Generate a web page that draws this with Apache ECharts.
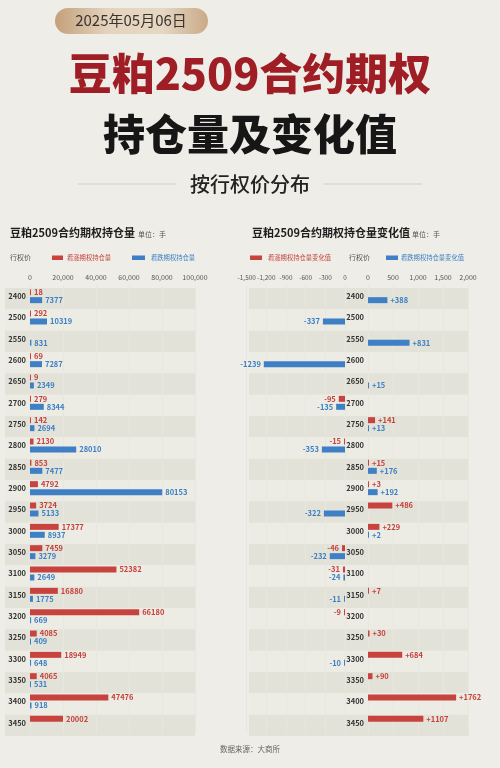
<!DOCTYPE html>
<html>
<head>
<meta charset="utf-8">
<script src="https://cdn.jsdelivr.net/npm/echarts@6/dist/echarts.min.js"></script>
<style>
html,body{margin:0;padding:0;background:#eeede7;}
#chart{width:500px;height:768px;}
</style>
</head>
<body>
<div id="chart"></div>
<script>
const strikes = ['2400','2500','2550','2600','2650','2700','2750','2800','2850','2900','2950','3000','3050','3100','3150','3200','3250','3300','3350','3400','3450'];
const callOI = [18,292,null,69,9,279,142,2130,853,4792,3724,17377,7459,52382,16880,66180,4085,18949,4065,47476,20002];
const putOI = [7377,10319,831,7287,2349,8344,2694,28010,7477,80153,5133,8937,3279,2649,1775,669,409,648,531,918,null];
const callChg = [null,null,null,null,null,-95,141,-15,15,3,486,229,-46,-31,7,-9,30,684,90,1762,1107];
const putChg = [388,-337,831,-1239,15,-135,13,-353,176,192,-322,2,-232,-24,-11,null,null,-10,null,null,null];
const oiTicks = {min:0, max:100000, interval:20000};
const negTicks = {min:-1500, max:0, interval:300};
const posTicks = {min:0, max:2000, interval:500};

const RED = '#c8433d', BLUE = '#3e7fc6';
const RED_T = '#c5423c', BLUE_T = '#3b7fc4';
const FONT = '"Noto Sans CJK SC","Noto Sans",sans-serif';

const fmtNum = v => Number(v).toLocaleString('en-US');
const negOnly = arr => arr.map(v => (v !== null && v < 0) ? v : null);
const posOnly = arr => arr.map(v => (v !== null && v >= 0) ? v : null);

const chart = echarts.init(document.getElementById('chart'), null, {renderer:'canvas'});

const TOP = 285.5, H = 448;
const bgAxisY = (gi) => ({type:'category', gridIndex:gi, data:strikes, inverse:true, show:true,
  axisLine:{show:false}, axisTick:{show:false}, axisLabel:{show:false},
  splitArea:{show:true, areaStyle:{color:['#e3e2d9','#ecebe4']}}, splitLine:{show:false}, z:0});
const bgAxisX = (gi) => ({type:'value', gridIndex:gi, show:false});

const valAxis = (gi, t, fs) => ({type:'value', gridIndex:gi, position:'top', min:t.min, max:t.max, interval:t.interval,
  axisLine:{show:false}, axisTick:{show:false},
  axisLabel:{fontSize:fs||7, color:'#555', margin:5, fontFamily:FONT, formatter:fmtNum,
    showMinLabel:true, showMaxLabel:true, hideOverlap:false},
  splitLine:{show:true, lineStyle:{color:'#e7e6df', width:1}}, z:1});
const catAxis = (gi, showLabel) => ({type:'category', gridIndex:gi, data:strikes, inverse:true,
  axisLine:{show:false}, axisTick:{show:false},
  axisLabel:{show:showLabel, fontSize:7.5, fontWeight:'bold', color:'#333', margin:4, fontFamily:FONT},
  splitLine:{show:false}, z:1});

const barSeries = (name, xi, yi, data, color, tcolor, pos, fmt) => ({
  type:'bar', name, xAxisIndex:xi, yAxisIndex:yi, data, barWidth:6, barGap:'33%', barMinHeight:1,
  itemStyle:{color}, 
  label:{show:true, position:pos, distance:3, fontSize:7.5, fontWeight:'bold', color:tcolor, fontFamily:FONT,
    formatter: p => (p.value === null || p.value === undefined) ? '' : fmt(p.value)},
  silent:true, animation:false
});

const txt = (text, x, y, size, color, weight, align) => ({type:'text', x, y, silent:true,
  style:{text, fill:color, font: (weight||'normal') + ' ' + size + 'px ' + FONT, textAlign:align||'left',
    textVerticalAlign:'middle', verticalAlign:'middle'}});
const rect = (x, y, w, h, fill, r) => ({type:'rect', silent:true, shape:{x, y, width:w, height:h, r:r||0}, style:{fill}});

const option = {
  backgroundColor:'#eeede7',
  animation:false,
  grid:[
    {left:5, width:190, top:288, height:H},
    {left:30, width:165, top:TOP, height:H},
    {left:249, width:220, top:288, height:H},
    {left:246.7, width:98.3, top:TOP, height:H},
    {left:368, width:100, top:TOP, height:H}
  ],
  xAxis:[bgAxisX(0), valAxis(1, oiTicks), bgAxisX(2), valAxis(3, negTicks, 6.4), valAxis(4, posTicks)],
  yAxis:[bgAxisY(0), catAxis(1, true), bgAxisY(2), catAxis(3, false), catAxis(4, true)],
  series:[
    barSeries('看涨期权持仓量', 1, 1, callOI, RED, RED_T, 'right', v => String(v)),
    barSeries('看跌期权持仓量', 1, 1, putOI, BLUE, BLUE_T, 'right', v => String(v)),
    barSeries('看涨期权持仓量变化值', 3, 3, negOnly(callChg), RED, RED_T, 'left', v => String(v)),
    barSeries('看跌期权持仓量变化值', 3, 3, negOnly(putChg), BLUE, BLUE_T, 'left', v => String(v)),
    barSeries('看涨期权持仓量变化值', 4, 4, posOnly(callChg), RED, RED_T, 'right', v => '+' + v),
    barSeries('看跌期权持仓量变化值', 4, 4, posOnly(putChg), BLUE, BLUE_T, 'right', v => '+' + v)
  ],
  graphic:[
    {type:'rect', silent:true, shape:{x:55, y:8, width:153, height:26, r:13},
      style:{fill:new echarts.graphic.LinearGradient(0,0,1,0,[
        {offset:0, color:'#c4a07a'},{offset:0.35, color:'#e4d4bf'},{offset:0.7, color:'#e6d7c3'},{offset:1, color:'#c9aa88'}])}},
    txt('2025年05月06日', 131, 20.5, 15, '#3a3330', 'normal', 'center'),
    txt('豆粕2509合约期权', 250, 74, 43, '#9f1d24', '900', 'center'),
    txt('持仓量及变化值', 250, 134, 42, '#161616', '900', 'center'),
    txt('按行权价分布', 250, 184, 20, '#222', '500', 'center'),
    {type:'line', silent:true, shape:{x1:78, y1:184, x2:176, y2:184}, style:{stroke:'#cfcdc6', lineWidth:1}},
    {type:'line', silent:true, shape:{x1:324, y1:184, x2:422, y2:184}, style:{stroke:'#cfcdc6', lineWidth:1}},
    txt('豆粕2509合约期权持仓量', 10, 233, 11, '#1e1e1e', 'bold', 'left'),
    txt('单位：手', 138, 234, 7, '#555', 'normal', 'left'),
    txt('豆粕2509合约期权持仓量变化值', 252, 233, 11, '#1e1e1e', 'bold', 'left'),
    txt('单位：手', 412, 234, 7, '#555', 'normal', 'left'),
    txt('行权价', 10, 257.5, 7, '#555', 'normal', 'left'),
    rect(52, 255.5, 11, 4.5, RED),
    txt('看涨期权持仓量', 67, 257.5, 6.3, RED_T, 'normal', 'left'),
    rect(132, 255.5, 13, 4.5, BLUE),
    txt('看跌期权持仓量', 151, 257.5, 6.3, BLUE_T, 'normal', 'left'),
    rect(250, 255.5, 12, 4.5, RED),
    txt('看涨期权持仓量变化值', 268, 257.5, 6.3, RED_T, 'normal', 'left'),
    txt('行权价', 349, 257.5, 7, '#555', 'normal', 'left'),
    rect(386, 255.5, 12, 4.5, BLUE),
    txt('看跌期权持仓量变化值', 401, 257.5, 6.3, BLUE_T, 'normal', 'left'),
    txt('数据来源：大商所', 250, 749, 7.5, '#666', 'normal', 'center')
  ]
};
chart.setOption(option);
</script>
</body>
</html>
